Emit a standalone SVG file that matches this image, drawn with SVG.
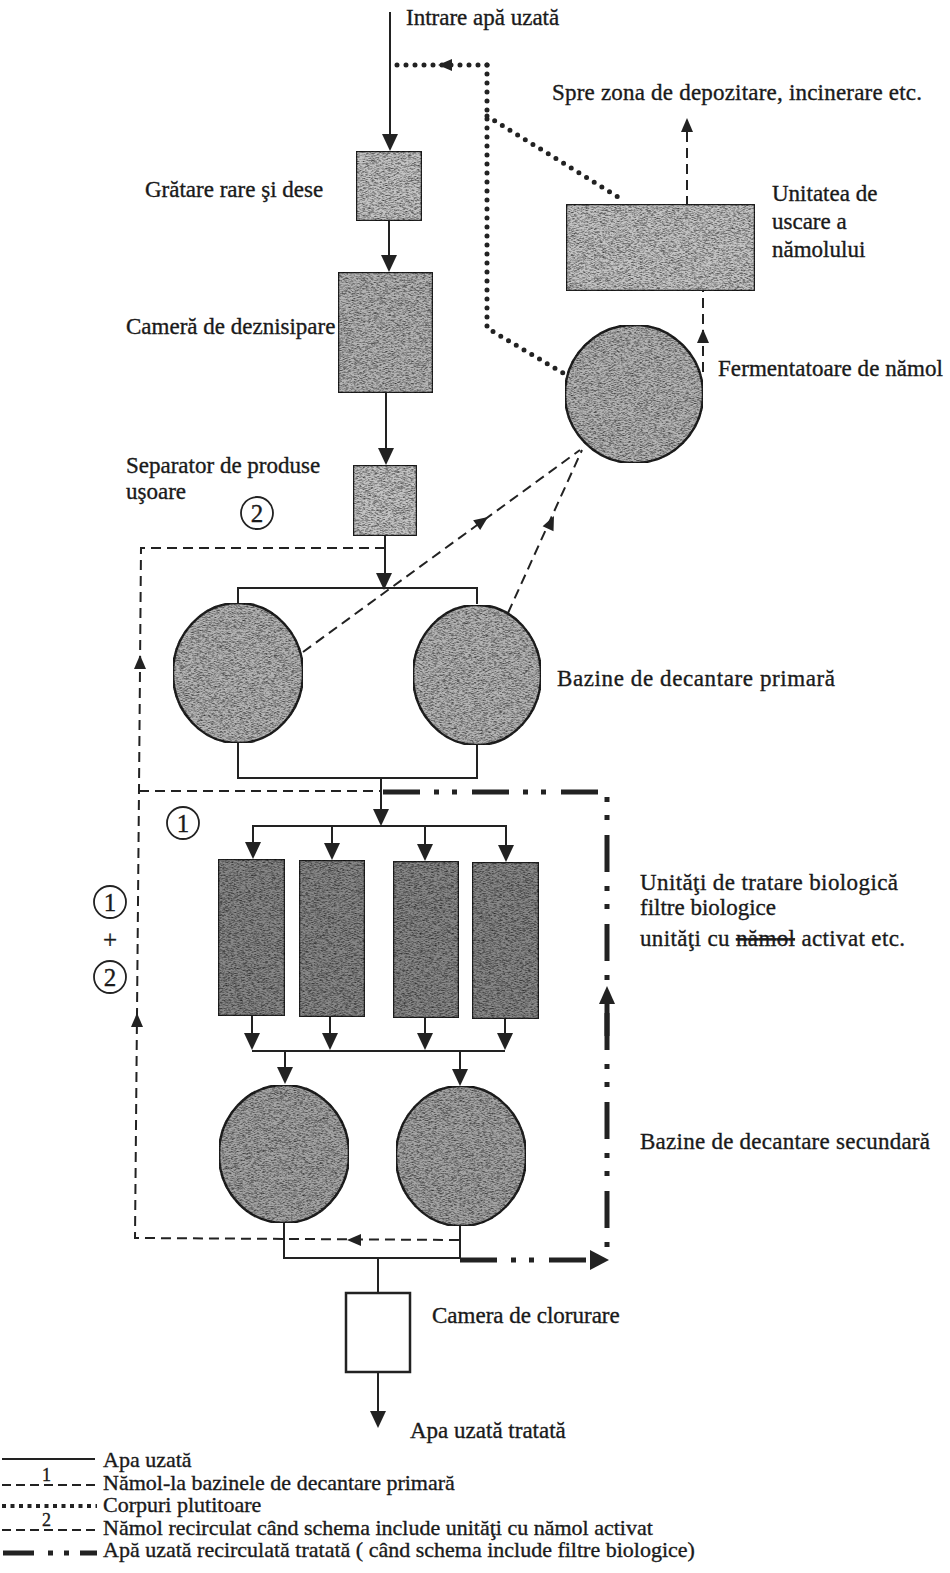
<svg xmlns="http://www.w3.org/2000/svg" xmlns:xlink="http://www.w3.org/1999/xlink" width="950" height="1573" viewBox="0 0 950 1573">
<style>
text{font-family:"Liberation Serif","Times New Roman",serif;font-size:23px;fill:#1a1a1a;stroke:#1a1a1a;stroke-width:0.35}
.leg{font-size:22px}
.box{stroke:#222;stroke-width:2.5;filter:url(#grain)}
.g1{fill:#c4c4c4}.g2{fill:#b4b4b4}.g3{fill:#878787}.g4{fill:#a4a4a4}
.w{fill:none;stroke:#222;stroke-width:2}
.d{fill:none;stroke:#222;stroke-width:2;stroke-dasharray:10 6}
.dot{fill:none;stroke:#222;stroke-width:5;stroke-dasharray:0 9;stroke-linecap:round}
.dd{fill:none;stroke:#222;stroke-width:5;stroke-dasharray:37 14 5 13 5 15}
.ah{fill:#222}
.num{font-size:25px;text-anchor:middle}
.ring{fill:none;stroke:#222;stroke-width:1.8}
</style>
<defs>
<filter id="grain" x="0" y="0" width="100%" height="100%" color-interpolation-filters="sRGB">
<feTurbulence type="fractalNoise" baseFrequency="0.35 1.4" numOctaves="2" seed="7" result="n"/>
<feColorMatrix in="n" type="matrix" values="0 0 0 0 0  0 0 0 0 0  0 0 0 0 0  1.4 0 0 0 -0.55" result="m"/>
<feComposite in="m" in2="SourceAlpha" operator="in" result="spk"/>
<feMerge><feMergeNode in="SourceGraphic"/><feMergeNode in="spk"/></feMerge>
</filter>
<path id="ah" d="M0,0 L-8,-17 L8,-17 Z"/>
<path id="ahs" d="M0,0 L-6,-14 L6,-14 Z"/>
</defs>

<g id="connectors">
<!-- solid water flow -->
<path class="w" d="M390,12 V140"/>
<path class="w" d="M389,221 V262"/>
<path class="w" d="M386,393 V455"/>
<path class="w" d="M385,536 V578"/>
<path class="w" d="M238,603 V588 H477 V604"/>
<path class="w" d="M238,742 V778 H477 V744"/>
<path class="w" d="M381,778 V815"/>
<path class="w" d="M253,850 V826 H506 V850 M332,826 V850 M425,826 V850"/>
<path class="w" d="M252,1016 V1040 M330,1017 V1040 M425,1018 V1040 M505,1019 V1040"/>
<path class="w" d="M252,1051 H505 M285,1051 V1073 M460,1051 V1073"/>
<path class="w" d="M284,1223 V1258 H460 V1226"/>
<path class="w" d="M378,1258 V1293 M378,1372 V1414"/>
<g class="ah">
<use xlink:href="#ah" x="390" y="151"/>
<use xlink:href="#ah" x="389" y="272"/>
<use xlink:href="#ah" x="386" y="465"/>
<use xlink:href="#ah" x="384" y="590"/>
<use xlink:href="#ah" x="381" y="826"/>
<use xlink:href="#ah" x="253" y="859"/>
<use xlink:href="#ah" x="332" y="860"/>
<use xlink:href="#ah" x="425" y="861"/>
<use xlink:href="#ah" x="506" y="862"/>
<use xlink:href="#ah" x="252" y="1050"/>
<use xlink:href="#ah" x="330" y="1050"/>
<use xlink:href="#ah" x="425" y="1050"/>
<use xlink:href="#ah" x="505" y="1050"/>
<use xlink:href="#ah" x="285" y="1084"/>
<use xlink:href="#ah" x="460" y="1086"/>
<use xlink:href="#ah" x="378" y="1428"/>
</g>
<!-- floating bodies (dotted) -->
<path class="dot" d="M487,65 H392"/>
<path class="dot" d="M487,65 V328 L563,373"/>
<path class="dot" d="M487,116 L623,200"/>
<use class="ah" xlink:href="#ahs" transform="translate(438,65) rotate(90)"/>
<!-- sludge (dashed) -->
<path class="d" d="M303,652 L580,450"/>
<path class="d" d="M508,613 L582,450"/>
<use class="ah" xlink:href="#ahs" transform="translate(488,517) rotate(-126)"/>
<use class="ah" xlink:href="#ahs" transform="translate(554,516) rotate(-155)"/>
<path class="d" d="M703,372 V291"/>
<use class="ah" xlink:href="#ahs" transform="translate(703,329) rotate(180)"/>
<path class="d" d="M687,222 V130"/>
<use class="ah" xlink:href="#ahs" transform="translate(687,118) rotate(180)"/>
<path class="d" d="M385,548 H141 L139,790 L135,1238 L460,1240"/>
<path class="d" d="M139,791 H381"/>
<use class="ah" xlink:href="#ahs" transform="translate(140,655) rotate(180)"/>
<use class="ah" xlink:href="#ahs" transform="translate(137,1013) rotate(180)"/>
<use class="ah" xlink:href="#ahs" transform="translate(347,1240) rotate(90)"/>
<!-- recirculated treated water (dash-dot) -->
<path class="dd" d="M383,792 H607 V1252"/>
<path class="dd" d="M460,1260 H592"/>
<path fill="none" stroke="#222" stroke-width="5" d="M607,998 V1036"/>
<path class="ah" d="M607,986 L599,1004 L615,1004 Z"/>
<path class="ah" d="M609,1260 L590,1250 L590,1270 Z"/>
</g>

<g id="n-inlet"><text x="406" y="25">Intrare apă uzată</text></g>
<g id="n-gratare"><rect class="box g1" x="356" y="151" width="66" height="70"/><text x="145" y="197">Grătare rare şi dese</text></g>
<g id="n-deznisipare"><rect class="box g2" x="338" y="272" width="95" height="121"/><text x="126" y="334">Cameră de deznisipare</text></g>
<g id="n-separator"><rect class="box g1" x="353" y="465" width="64" height="71"/><text x="126" y="473">Separator de produse</text><text x="126" y="499">uşoare</text></g>
<g id="n-uscare"><rect class="box g1" x="566" y="204" width="189" height="87"/><text x="772" y="201">Unitatea de</text><text x="772" y="229">uscare a</text><text x="772" y="257">nămolului</text></g>
<g id="n-dest"><text x="552" y="100" textLength="370" lengthAdjust="spacing">Spre zona de depozitare, incinerare etc.</text></g>
<g id="n-fermentator"><circle class="box g2" cx="634" cy="394" r="69"/><text x="718" y="376" textLength="225" lengthAdjust="spacing">Fermentatoare de nămol</text></g>
<g id="n-primar"><ellipse class="box g2" cx="238" cy="673" rx="65" ry="70"/><ellipse class="box g2" cx="477" cy="675" rx="64" ry="70"/><text x="557" y="686" textLength="278" lengthAdjust="spacing">Bazine de decantare primară</text></g>
<g id="n-biologic">
<rect class="box g3" x="218" y="859" width="67" height="157"/>
<rect class="box g3" x="299" y="860" width="66" height="157"/>
<rect class="box g3" x="393" y="861" width="66" height="157"/>
<rect class="box g3" x="472" y="862" width="67" height="157"/>
<text x="640" y="890" textLength="258" lengthAdjust="spacing">Unităţi de tratare biologică</text>
<text x="640" y="915">filtre biologice</text>
<text x="640" y="946" textLength="265" lengthAdjust="spacing">unităţi cu <tspan text-decoration="line-through">nămol</tspan> activat etc.</text>
</g>
<g id="n-secundar"><ellipse class="box g4" cx="284" cy="1154" rx="65" ry="69"/><ellipse class="box g4" cx="461" cy="1156" rx="65" ry="70"/><text x="640" y="1149" textLength="290" lengthAdjust="spacing">Bazine de decantare secundară</text></g>
<g id="n-clorurare"><rect stroke="#222" stroke-width="2.5" fill="#fff" x="346" y="1293" width="64" height="79"/><text x="432" y="1323">Camera de clorurare</text></g>
<g id="n-outlet"><text x="410" y="1438">Apa uzată tratată</text></g>

<g id="marks">
<circle class="ring" cx="257" cy="513" r="16"/><text class="num" x="257" y="522">2</text>
<circle class="ring" cx="183" cy="823" r="16"/><text class="num" x="183" y="832">1</text>
<circle class="ring" cx="110" cy="902" r="16"/><text class="num" x="110" y="911">1</text>
<text class="num" x="110" y="948">+</text>
<circle class="ring" cx="110" cy="977" r="16"/><text class="num" x="110" y="986">2</text>
</g>

<g id="legend">
<path class="w" d="M2,1459 H95"/>
<text class="leg" x="103" y="1467">Apa uzată</text>
<path class="d" d="M2,1485 H95" style="stroke-dasharray:9 5"/>
<text class="leg" x="42" y="1481" style="font-size:18px">1</text>
<text class="leg" x="103" y="1490">Nămol-la bazinele de decantare primară</text>
<path fill="none" stroke="#222" stroke-width="4" stroke-dasharray="4 4.5" d="M2,1506 H97"/>
<text class="leg" x="103" y="1512">Corpuri plutitoare</text>
<path class="d" d="M2,1530 H95" style="stroke-dasharray:9 5"/>
<text class="leg" x="42" y="1526" style="font-size:18px">2</text>
<text class="leg" x="103" y="1535">Nămol recirculat când schema include unităţi cu nămol activat</text>
<path fill="none" stroke="#222" stroke-width="5" d="M3,1553 H34 M48,1553 H53 M64,1553 H69 M80,1553 H97"/>
<text class="leg" x="103" y="1557">Apă uzată recirculată tratată ( când schema include filtre biologice)</text>
</g>
</svg>
